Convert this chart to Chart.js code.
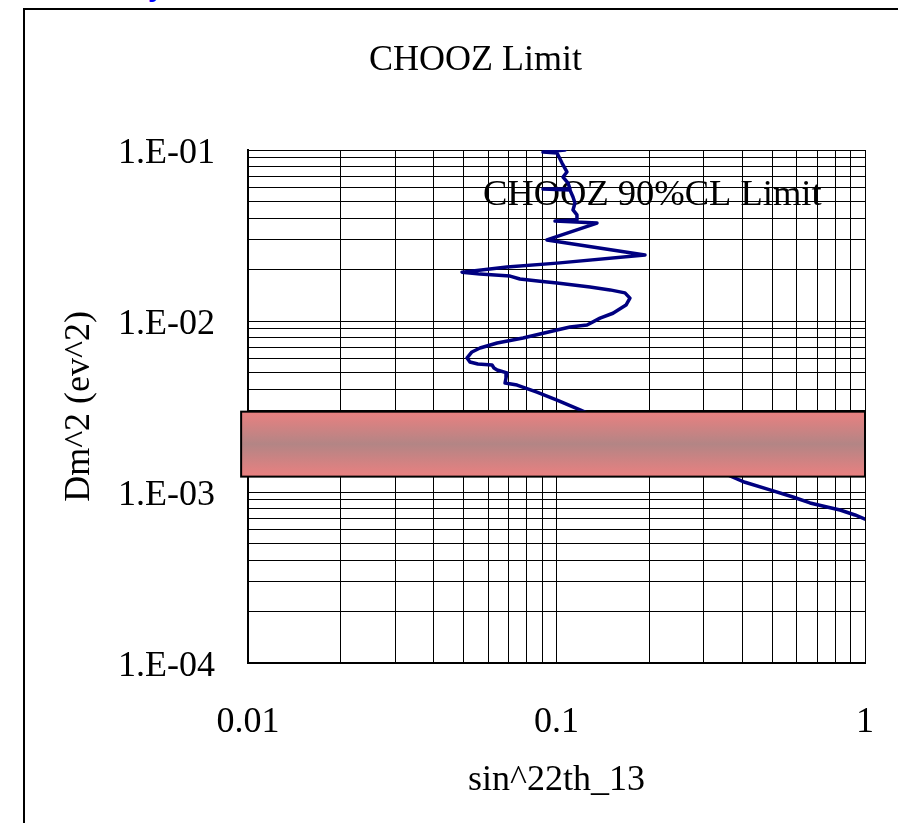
<!DOCTYPE html>
<html>
<head>
<meta charset="utf-8">
<title>CHOOZ Limit</title>
<script src="https://cdn.jsdelivr.net/npm/chart.js@4.4.1/dist/chart.umd.min.js"></script>
<style>
    html, body { margin: 0; padding: 0; background: #fff; overflow: hidden; }
    #wrap { position: relative; width: 898px; height: 823px; overflow: hidden; }
    #frame { position: absolute; left: 23px; top: 8px; width: 1000px; height: 1000px;
             border-left: 2px solid #000; border-top: 2px solid #000; }
    #cut { position: absolute; left: 148px; top: -27px; font: bold 28px 'Liberation Sans', sans-serif;
           line-height: 28px; color: #0000ff; }
    canvas { position: absolute; left: 0; top: 0; }
</style>
</head>
<body>
<div id="wrap">
    <div id="frame"></div>
    <div id="cut">y</div>
    <canvas id="choozChart" width="898" height="823"></canvas>
</div>
<script>
/* ====== DATA ====== */
const limitX = [0.1066, 0.0904, 0.1004, 0.1042, 0.1081, 0.1050, 0.1090, 0.1106, 0.0904, 0.1106,
                0.1131, 0.1148, 0.1131, 0.1165, 0.1165, 0.0989, 0.1353, 0.0931, 0.1936, 0.1004,
                0.0691, 0.0494, 0.0565, 0.0707, 0.0761, 0.0884, 0.1004, 0.1284, 0.1491, 0.1667,
                0.1730, 0.1680, 0.1524, 0.1384, 0.1256, 0.1106, 0.1004, 0.0884, 0.0779, 0.0642,
                0.0565, 0.0532, 0.0513, 0.0524, 0.0556, 0.0618, 0.0627, 0.0642, 0.0691, 0.0686,
                0.0681, 0.0745, 0.0864, 0.1004, 0.1192, 0.3733, 0.4083, 0.4920, 0.5842, 0.6635,
                0.7528, 0.8299, 0.9282, 1.0];
const limitY = [0.1, 0.0973, 0.0960, 0.0839, 0.0744, 0.0695, 0.0641, 0.0591, 0.0591, 0.0583,
                0.0531, 0.0490, 0.0446, 0.0417, 0.0390, 0.0384, 0.0374, 0.0298, 0.0243, 0.0218,
                0.0207, 0.0193, 0.0188, 0.0183, 0.0176, 0.0171, 0.0167, 0.0158, 0.0152, 0.0146,
                0.0136, 0.0124, 0.0111, 0.0104, 0.00948, 0.00922, 0.00886, 0.00839, 0.00796, 0.00744,
                0.00695, 0.00659, 0.00608, 0.00576, 0.00560, 0.00553, 0.00531, 0.00517, 0.00497, 0.00464,
                0.00434, 0.00422, 0.00384, 0.00345, 0.00302, 0.00122, 0.00114, 0.00103, 0.000935, 0.000863,
                0.000817, 0.000785, 0.000734, 0.000695];

// atmospheric dm^2 band
const bandX = [0.0095, 1];
const bandY = [0.00123, 0.00295];

const xTickValues = [0.01, 0.1, 1];
const xTickLabels = ["0.01", "0.1", "1"];
const yTickValues = [0.0001, 0.001, 0.01, 0.1];
const yTickLabels = ["1.E-04", "1.E-03", "1.E-02", "1.E-01"];

const FONT = "'Liberation Serif', 'Times New Roman', serif";

/* ====== HELPERS ====== */
// 1..9 x 10^n ticks, so every log grid line is drawn
function logTicks(scale) {
    const ticks = [];
    const lo = Math.round(Math.log10(scale.min));
    const hi = Math.round(Math.log10(scale.max));
    for (let e = lo; e < hi; e++) {
        for (let m = 1; m < 10; m++) ticks.push({ value: m * Math.pow(10, e) });
    }
    ticks.push({ value: scale.max });
    scale.ticks = ticks;
}

function labelFor(values, labels) {
    return v => {
        const i = values.findIndex(t => Math.abs(Math.log10(t) - Math.log10(v)) < 1e-6);
        return i < 0 ? "" : labels[i];
    };
}

/* ====== PLUGINS ====== */
const bandPlugin = {
    id: "band",
    afterDatasetsDraw(chart) {
        const { ctx, scales: { x, y } } = chart;
        const left = x.getPixelForValue(bandX[0]);
        const right = x.getPixelForValue(bandX[1]);
        const top = y.getPixelForValue(bandY[1]);
        const bottom = y.getPixelForValue(bandY[0]);
        const g = ctx.createLinearGradient(0, top, 0, bottom);
        g.addColorStop(0, "#ea8080");
        g.addColorStop(0.5, "#b38585");
        g.addColorStop(1, "#ea8080");
        ctx.save();
        ctx.fillStyle = g;
        ctx.fillRect(left, top, right - left, bottom - top);
        ctx.strokeStyle = "#000";
        ctx.lineWidth = 2;
        ctx.strokeRect(left, top, right - left, bottom - top);
        ctx.restore();
    }
};

const seriesLabel = {
    id: "seriesLabel",
    beforeDatasetsDraw(chart) {
        const { ctx, chartArea } = chart;
        ctx.save();
        ctx.font = "36.5px " + FONT;
        ctx.fillStyle = "#000";
        ctx.textBaseline = "alphabetic";
        ctx.fillText(chart.data.datasets[0].label, chartArea.left + 235, chartArea.top + 55);
        ctx.restore();
    }
};

/* ====== CHART ====== */
new Chart(document.getElementById("choozChart"), {
    type: "scatter",
    data: {
        datasets: [{
            label: "CHOOZ 90%CL Limit",
            data: limitX.map((x, i) => ({ x: x, y: limitY[i] })),
            showLine: true,
            borderColor: "#000080",
            borderWidth: 3.5,
            borderJoinStyle: "round",
            borderCapStyle: "round",
            pointRadius: 0,
            tension: 0
        }]
    },
    plugins: [seriesLabel, bandPlugin],
    options: {
        responsive: false,
        devicePixelRatio: 1,
        animation: false,
        layout: { padding: { left: 86, right: 33, top: 0, bottom: 0 } },
        plugins: {
            legend: { display: false },
            tooltip: { enabled: false },
            title: {
                display: true,
                text: "CHOOZ Limit",
                color: "#000",
                font: { family: FONT, size: 36, weight: "normal" },
                padding: { top: 39.4, bottom: 67.4 }
            }
        },
        scales: {
            x: {
                type: "logarithmic",
                min: 0.01,
                max: 1,
                afterBuildTicks: logTicks,
                afterFit: s => { s.height = 160; s.paddingLeft = 0; s.paddingRight = 0; },
                grid: { color: "#000", lineWidth: 1, drawTicks: false },
                border: { color: "#000", width: 2 },
                ticks: {
                    callback: labelFor(xTickValues, xTickLabels),
                    autoSkip: false,
                    maxRotation: 0,
                    padding: 38,
                    color: "#000",
                    font: { family: FONT, size: 36 }
                },
                title: {
                    display: true,
                    text: "sin^22th_13",
                    color: "#000",
                    font: { family: FONT, size: 36 },
                    padding: { top: 0, bottom: 20.4 }
                }
            },
            y: {
                type: "logarithmic",
                min: 0.0001,
                max: 0.1,
                afterBuildTicks: logTicks,
                afterFit: s => { s.width = 162; },
                grid: { color: "#000", lineWidth: 1, drawTicks: false },
                border: { color: "#000", width: 2 },
                ticks: {
                    callback: labelFor(yTickValues, yTickLabels),
                    autoSkip: false,
                    padding: 33,
                    labelOffset: 4,
                    color: "#000",
                    font: { family: FONT, size: 36 }
                },
                title: {
                    display: true,
                    text: "Dm^2 (ev^2)",
                    color: "#000",
                    font: { family: FONT, size: 36 },
                    padding: { top: -27.6, bottom: 0 }
                }
            }
        }
    }
});
</script>
</body>
</html>
